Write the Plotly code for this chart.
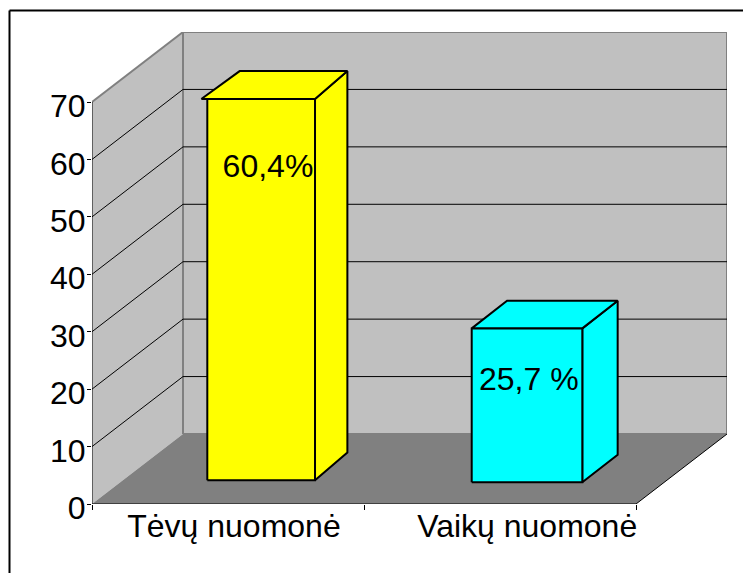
import plotly.graph_objects as go

# ---- data ----
categories = ["Tėvų nuomonė", "Vaikų nuomonė"]
values = [66.4, 26.8]
value_labels = ["60,4%", "25,7 %"]
colors = ["#ffff00", "#00ffff"]
y_ticks = [0, 10, 20, 30, 40, 50, 60, 70]

# ---- style / geometry of the oblique projection (in axis units) ----
PAGE = 8                  # the page's own body margin
W, H = 751, 573
L, R, T, B = 92 - PAGE, 727 - PAGE, 32 - PAGE, 504 - PAGE
X_UNIT = 272.0            # px per category
Y_UNIT = 402.0 / 70.0     # px per value unit
DEPTH_X = 91 / X_UNIT
DEPTH_Y = 70 / Y_UNIT
bar_left = [0.4239, 1.3960]
bar_width = [0.396, 0.4066]
bar_base = [4.13, 3.78]
bar_dx = [0.119, 0.130]
bar_dy = [4.85, 4.8]
overhang = [0.022, 0.0]
label_x = [0.647, 1.606]
label_y = [58.3, 21.2]
cat_label_x = [0.522, 1.60]
GREY, FLOOR, EDGE = "#c0c0c0", "#808080", "#808080"
FONT = "Liberation Sans, Arial, sans-serif"
FS = 32


def poly(xs, ys, fill=None, color="black", width=1.0):
    return go.Scatter(
        x=xs, y=ys, mode="lines", fill="toself" if fill else "none",
        fillcolor=fill, line=dict(color=color, width=width),
        hoverinfo="skip", showlegend=False, cliponaxis=False,
    )


n = len(categories)
top = y_ticks[-1]
fig = go.Figure()
# side wall, back wall, floor
fig.add_trace(poly([0, DEPTH_X, DEPTH_X, 0, 0], [0, DEPTH_Y, top + DEPTH_Y, top, 0], GREY, GREY, 0))
fig.add_trace(poly([DEPTH_X, n + DEPTH_X, n + DEPTH_X, DEPTH_X, DEPTH_X],
                   [DEPTH_Y, DEPTH_Y, top + DEPTH_Y, top + DEPTH_Y, DEPTH_Y], GREY, EDGE, 2))
fig.add_trace(poly([0, DEPTH_X, n + DEPTH_X, n, 0], [0, DEPTH_Y, DEPTH_Y, 0, 0], FLOOR, FLOOR, 0))
# gridlines running over the side wall and back wall
for v in y_ticks[1:-1]:
    fig.add_trace(poly([0, DEPTH_X, n + DEPTH_X], [v, v + DEPTH_Y, v + DEPTH_Y], None, "black", 1))
# wall top edge
fig.add_trace(poly([0, DEPTH_X], [top, top + DEPTH_Y], None, EDGE, 2))
# axis frame lines
fig.add_trace(poly([0, 0], [0, top], None, "black", 1))
fig.add_trace(poly([0, n, n + DEPTH_X], [0, 0, DEPTH_Y], None, "black", 1))

# bars
for i in range(n):
    x0, x1 = bar_left[i], bar_left[i] + bar_width[i]
    y0, y1 = bar_base[i], bar_base[i] + values[i]
    dx, dy = bar_dx[i], bar_dy[i]
    fig.add_trace(poly([x1, x1 + dx, x1 + dx, x1, x1], [y0, y0 + dy, y1 + dy, y1, y0], colors[i], "black", 2))
    fig.add_trace(poly([x0 - overhang[i], x0 + dx, x1 + dx, x1, x0 - overhang[i]],
                       [y1, y1 + dy, y1 + dy, y1, y1], colors[i], "black", 2))
    fig.add_trace(poly([x0, x1, x1, x0, x0], [y0, y0, y1, y1, y0], colors[i], "black", 2))

# value labels
fig.add_trace(go.Scatter(
    x=label_x, y=label_y, mode="text", text=value_labels,
    textfont=dict(family=FONT, size=FS, color="black"),
    textposition="middle center", hoverinfo="skip", showlegend=False, cliponaxis=False,
))
# carries the x-axis tick marks (category boundaries)
fig.add_trace(go.Scatter(x=[0, n], y=[0, 0], mode="lines", line=dict(width=0),
                         xaxis="x2", hoverinfo="skip", showlegend=False))

x_range = [0, n + DEPTH_X]
y_range = [0, top + DEPTH_Y]
frame_x = 9.5 - PAGE
frame_y = 10.5 - PAGE
fig.update_layout(
    width=W, height=H, autosize=False,
    margin=dict(l=L, r=W - R, t=T, b=H - B, pad=0),
    paper_bgcolor="white", plot_bgcolor="white",
    font=dict(family=FONT, size=FS, color="black"),
    showlegend=False,
    xaxis=dict(range=x_range, tickmode="array", tickvals=cat_label_x, ticktext=categories,
               ticks="", showgrid=False, zeroline=False, showline=False,
               tickfont=dict(family=FONT, size=FS, color="black"), tickangle=0),
    xaxis2=dict(range=x_range, overlaying="x", side="bottom", anchor="y",
                tickmode="array", tickvals=list(range(n + 1)), ticktext=[""] * (n + 1),
                ticks="outside", ticklen=5, tickwidth=1, tickcolor="black",
                showgrid=False, zeroline=False, showline=False),
    yaxis=dict(range=y_range, tickmode="array", tickvals=y_ticks, ticktext=[str(v) for v in y_ticks],
               ticks="outside", ticklen=4, tickwidth=1, tickcolor="black",
               ticklabelstandoff=-5, ticklabelshift=4,
               showgrid=False, zeroline=False, showline=False,
               tickfont=dict(family=FONT, size=FS, color="black")),
    shapes=[
        dict(type="line", xref="paper", yref="paper", line=dict(color="black", width=2),
             x0=(frame_x - L) / (R - L), x1=(frame_x - L) / (R - L),
             y0=(B - frame_y) / (B - T), y1=(B - H) / (B - T)),
        dict(type="line", xref="paper", yref="paper", line=dict(color="black", width=2),
             x0=(frame_x - L) / (R - L), x1=(W - L) / (R - L),
             y0=(B - frame_y) / (B - T), y1=(B - frame_y) / (B - T)),
    ],
)
fig.write_html("out.html")
